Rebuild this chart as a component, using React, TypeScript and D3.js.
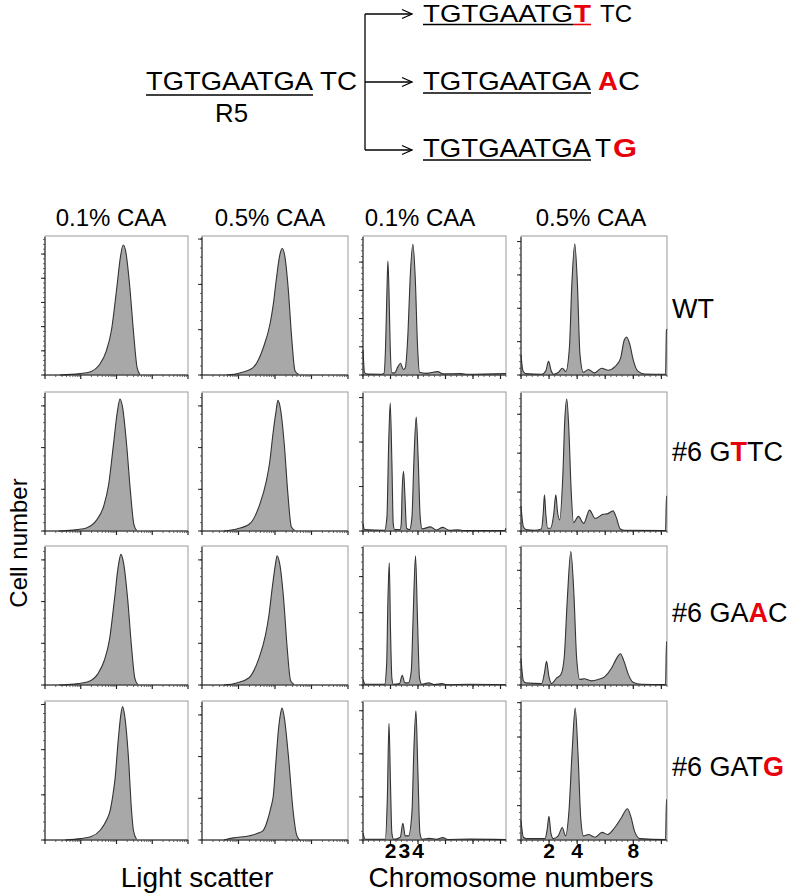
import React from "react";
import * as d3 from "d3";

const W = 791;
const H = 893;
const FONT = "'Liberation Sans', Arial, Helvetica, sans-serif";
const RED = "#e8000b";

// ---------- text content ----------
const columnTitles = ["0.1% CAA", "0.5% CAA", "0.1% CAA", "0.5% CAA"];
const rowLabelParts = [
  ["WT", "", ""],
  ["#6 G", "T", "TC"],
  ["#6 GA", "A", "C"],
  ["#6 GAT", "G", ""],
];
const ploidyLabelsLow = [2, 3, 4];
const ploidyLabelsHigh = [2, 4, 8];

// ---------- light scatter histograms: [intensity (log axis), % of max count] ----------
const wtScatter01 = [[2.6,0],[9.5,1],[18,2.2],[34,7.7],[52,17.4],[72,32],[100,61],[129,85],[154,93.5],[182,88.6],[236,63],[302,29.5],[377,5.3],[449,0.5]];
const wtScatter05 = [[4.8,0],[11,1.5],[25,5.3],[48,19.8],[73,36.7],[90,51],[110,70],[137,87],[158,91],[187,85],[229,63],[286,27],[353,3],[437,0.5]];
const gttcScatter01 = [[2.4,0],[8,1],[15,2.4],[28,8],[44,18],[60,33],[82,62],[106,86],[125,95],[148,89],[192,62],[246,28],[305,5],[365,0.5]];
const gttcScatter05 = [[4,0],[9,1.5],[20,5],[38,19],[58,36],[72,50],[88,70],[108,87],[120,94],[145,86],[180,62],[225,27],[280,3],[345,0.5]];
const gaacScatter01 = [[2.5,0],[8.5,1],[16,2.3],[30,8],[46,18],[64,33],[88,62],[113,86],[133,94],[157,88],[205,62],[262,28],[325,5],[390,0.5]];
const gaacScatter05 = [[4,0],[9,1.5],[19,5],[36,19],[55,36],[68,50],[84,70],[103,87],[114,93],[137,86],[172,62],[215,27],[268,3],[330,0.5]];
const gatgScatter01 = [[3.6,0],[10,1],[19,2.3],[35,7],[52,14],[66,21],[80,33],[91,44],[112,72],[132,90],[148,96],[168,90],[215,60],[262,22],[297,7],[363,0.5]];
const gatgScatter05 = [[4,0],[7.2,1.5],[20,3],[35,5],[48,7],[62,14],[78,24],[90,32],[105,55],[125,80],[142,91],[156,95],[180,88],[230,62],[316,20],[380,5],[437,1],[480,0]];

// ---------- chromosome number histograms: [chromosome number, % of max count] ----------
const wtPloidy01 = [[0,18],[0.12,1.5],[0.36,0.6],[1.33,0.5],[1.52,1],[1.64,20],[1.74,60],[1.81,82],[1.89,60],[1.98,20],[2.1,1.5],[2.3,1.5],[2.54,6],[2.73,8.5],[2.93,4],[3.07,5],[3.27,30],[3.43,70],[3.63,94],[3.8,70],[3.97,20],[4.11,2],[4.6,1.2],[5.44,2.4],[5.8,0.8],[7.14,1],[7.6,0.5],[10.4,1]];
const wtPloidy05 = [[0,14.6],[0.14,3],[0.31,1],[1.49,0.5],[1.77,3],[1.96,9.8],[2.15,3],[2.32,0.5],[2.67,2],[2.95,4.9],[3.19,2.5],[3.45,20],[3.62,65],[3.83,94.4],[4.02,65],[4.2,15],[4.44,2],[4.8,4],[5.22,1.5],[5.74,4.9],[6.22,3.4],[6.69,6],[7.09,12],[7.35,25],[7.52,27.3],[7.75,22],[7.99,11],[8.3,3],[8.82,0.7],[10.3,0.5],[10.36,32],[10.4,33]];
const gttcPloidy01 = [[0,5.3],[0.12,1],[1.57,0.5],[1.74,10],[1.86,60],[1.98,92],[2.1,50],[2.2,5],[2.3,1],[2.7,1],[2.78,5],[2.85,30],[2.95,43],[3.05,25],[3.17,2],[3.39,1],[3.56,10],[3.7,50],[3.87,82],[4.02,50],[4.16,10],[4.3,1.5],[4.91,3],[5.32,0.7],[5.8,2.6],[6.29,0.5],[6.9,0.8],[7.38,0.3],[10.3,0.3],[10.4,2]];
const gttcPloidy05 = [[0,18],[0.17,3],[0.36,1],[0.95,0.5],[1.45,1.5],[1.58,12],[1.67,26],[1.77,12],[1.9,2],[2.1,2],[2.33,12],[2.48,26],[2.6,14],[2.75,8],[2.98,40],[3.12,80],[3.26,95],[3.4,75],[3.57,30],[3.74,6],[4.09,10.5],[4.47,5.5],[4.88,15],[5.28,9],[5.83,12],[6.19,12.5],[6.55,14.5],[6.78,10],[7.07,1.5],[7.38,0.5],[10.3,0.3],[10.36,25],[10.4,25]];
const gaacPloidy01 = [[0,4],[0.17,0.5],[1.57,0.5],[1.72,15],[1.81,60],[1.91,88],[2.0,40],[2.1,5],[2.2,0.5],[2.66,1],[2.85,7],[3.05,1.5],[3.3,1.5],[3.51,10],[3.65,50],[3.82,93],[3.97,45],[4.11,5],[4.28,0.5],[4.77,1.5],[5.2,0.3],[5.73,1],[6.17,0.2],[7.62,0.5],[10.4,0.2]];
const gaacPloidy05 = [[0,19],[0.17,3],[0.33,1.5],[1.47,1],[1.66,8],[1.82,17],[1.99,6],[2.18,1],[2.53,5],[2.84,7.5],[3.08,20],[3.29,60],[3.55,96],[3.77,65],[3.96,20],[4.19,4],[4.5,4.5],[5.02,3],[5.5,4],[5.97,6],[6.44,12],[6.8,19],[7.08,22.5],[7.34,17],[7.63,8],[7.98,2],[8.58,0.5],[10.3,0.3],[10.36,31],[10.4,31]];
const gatgPloidy01 = [[0,5],[0.17,0.5],[1.62,0.5],[1.77,30],[1.89,84],[2.0,40],[2.1,5],[2.23,0.5],[2.71,2],[2.9,12],[3.07,3],[3.31,3],[3.56,20],[3.7,65],[3.85,93],[3.99,50],[4.14,5],[4.3,0.5],[4.84,1.2],[5.32,0.5],[5.8,1.7],[6.17,0.4],[7.74,0.6],[10.4,0.3]];
const gatgPloidy05 = [[0,14],[0.17,2],[0.4,1],[1.71,1],[1.87,8],[1.99,17],[2.13,5],[2.3,1],[2.65,3],[2.94,9],[3.17,3],[3.41,20],[3.65,65],[3.86,95],[4.07,60],[4.26,15],[4.45,3],[4.79,4],[5.26,2],[5.78,5.5],[6.16,4],[6.68,9],[7.15,16],[7.58,22.5],[7.82,17],[8.1,6],[8.46,1],[10.3,0.3],[10.36,29],[10.4,29]];

// count-axis major tick step, % of max, per row and column
const countTickSteps = [
  [17.4, 32.6, 20.3, 24],
  [30, 30, 32, 28],
  [30, 30, 26, 27.5],
  [32.5, 30, 31, 24.7],
];

const panelData = [
  [wtScatter01, wtScatter05, wtPloidy01, wtPloidy05],
  [gttcScatter01, gttcScatter05, gttcPloidy01, gttcPloidy05],
  [gaacScatter01, gaacScatter05, gaacPloidy01, gaacPloidy05],
  [gatgScatter01, gatgScatter05, gatgPloidy01, gatgPloidy05],
];

// ---------- layout ----------
const colX = [45, 202, 363, 521];
const colW = [143, 146, 143, 146];
const rowY = [236, 392, 546, 701];
const panelH = 139;
const titleX = [111, 270, 420, 591];
const rowLabelY = [318, 461, 622, 776];

function Panel({ x0, y0, w, h, kind, data, step }) {
  const xs =
    kind === "scatter"
      ? d3.scaleLog().domain([1, 10000]).range([x0, x0 + w])
      : d3.scaleLinear().domain([0, 10.4]).range([x0, x0 + w]);
  const ys = d3.scaleLinear().domain([0, 100]).range([y0 + h, y0]);
  const area = d3
    .area()
    .x((d) => xs(d[0]))
    .y0(y0 + h)
    .y1((d) => ys(d[1]))
    .curve(d3.curveMonotoneX);
  const line = d3
    .line()
    .x((d) => xs(d[0]))
    .y((d) => ys(d[1]))
    .curve(d3.curveMonotoneX);

  const yMajor = d3.range(0, 100.001, step);
  const yMinor = d3.range(0, 100.001, step / 5);
  let xMajor, xMinor;
  if (kind === "scatter") {
    xMajor = [1, 10, 100, 1000, 10000];
    xMinor = [];
    [1, 10, 100, 1000].forEach((dd) => {
      for (let m = 2; m <= 9; m++) xMinor.push(dd * m);
    });
  } else {
    xMajor = d3.range(0, 10.41, 2);
    xMinor = d3.range(0, 10.41, 0.4);
  }
  const bottom = y0 + h;
  return (
    <g>
      <rect x={x0} y={y0} width={w} height={h} fill="none" stroke="#9a9a9a" strokeWidth={1} />
      <path d={area(data)} fill="#a8a8a8" stroke="none" />
      <path d={line(data)} fill="none" stroke="#333" strokeWidth={1.1} strokeLinejoin="round" />
      <line x1={x0} x2={x0} y1={y0 + 1} y2={bottom} stroke="#222" strokeWidth={1} />
      <line x1={x0} x2={x0 + w} y1={bottom} y2={bottom} stroke="#222" strokeWidth={1} />
      {yMinor.map((v, i) => (
        <line key={"ym" + i} x1={x0 - 2} x2={x0} y1={ys(v)} y2={ys(v)} stroke="#444" strokeWidth={0.8} />
      ))}
      {yMajor.map((v, i) => (
        <line key={"yM" + i} x1={x0 - 4} x2={x0} y1={ys(v)} y2={ys(v)} stroke="#222" strokeWidth={1} />
      ))}
      {xMinor.map((v, i) => (
        <line key={"xm" + i} x1={xs(v)} x2={xs(v)} y1={bottom} y2={bottom + 2} stroke="#444" strokeWidth={0.8} />
      ))}
      {xMajor.map((v, i) => (
        <line key={"xM" + i} x1={xs(v)} x2={xs(v)} y1={bottom} y2={bottom + 4} stroke="#222" strokeWidth={1.2} />
      ))}
    </g>
  );
}

function T({ x, y, s, len, size = 26, red = false, bold = false }) {
  return (
    <text
      x={x}
      y={y}
      fontSize={size}
      fontWeight={bold ? "bold" : "normal"}
      fill={red ? RED : "#000"}
      textLength={len}
      lengthAdjust="spacingAndGlyphs"
    >
      {s}
    </text>
  );
}

function Arrow({ y }) {
  return (
    <g stroke="#000" strokeWidth={1.3} fill="none">
      <line x1={365} x2={412} y1={y} y2={y} />
      <polyline points={`402,${y - 4.5} 412,${y} 402,${y + 4.5}`} />
    </g>
  );
}

export default function App() {
  const ploidyScale = d3.scaleLinear().domain([0, 10.4]);
  return (
    <svg
      width={W}
      height={H}
      viewBox={`0 0 ${W} ${H}`}
      style={{ position: "absolute", left: 0, top: 0, background: "#fff" }}
      fontFamily={FONT}
    >
      <rect x={0} y={0} width={W} height={H} fill="#fff" />
      {/* sequence diagram */}
      <g>
        <T x={146} y={90} s="TGTGAATGA" len={167} />
        <T x={320} y={90} s="TC" len={37} />
        <line x1={146} x2={313} y1={95} y2={95} stroke="#000" strokeWidth={1.6} />
        <T x={215} y={122} s="R5" len={33} />
        <line x1={365} x2={365} y1={14} y2={150} stroke="#000" strokeWidth={1.3} />
        <Arrow y={14} />
        <Arrow y={82} />
        <Arrow y={150} />
        {/* top branch */}
        <T x={423} y={22} s="TGTGAATG" len={150} size={24} />
        <T x={574} y={22} s="T" len={17} size={24} red bold />
        <T x={600} y={22} s="TC" len={32} size={24} />
        <line x1={423} x2={573} y1={24.5} y2={24.5} stroke="#000" strokeWidth={1.6} />
        <line x1={573} x2={591} y1={24.5} y2={24.5} stroke={RED} strokeWidth={1.6} />
        {/* middle branch */}
        <T x={423} y={90} s="TGTGAATGA" len={168} />
        <T x={598} y={90} s="A" len={20} red bold />
        <T x={618} y={90} s="C" len={22} />
        <line x1={423} x2={591} y1={93} y2={93} stroke="#000" strokeWidth={1.6} />
        {/* bottom branch */}
        <T x={423} y={157} s="TGTGAATGA" len={168} />
        <T x={595} y={157} s="T" len={16} />
        <T x={613} y={157} s="G" len={24} red bold />
        <line x1={423} x2={591} y1={160} y2={160} stroke="#000" strokeWidth={1.6} />
      </g>

      {/* column titles */}
      {columnTitles.map((t, i) => (
        <text key={"ct" + i} x={titleX[i]} y={226} fontSize={24} textAnchor="middle">
          {t}
        </text>
      ))}

      {/* panels */}
      {panelData.map((row, r) =>
        row.map((data, c) => (
          <Panel
            key={`p${r}-${c}`}
            x0={colX[c]}
            y0={rowY[r]}
            w={colW[c]}
            h={panelH}
            kind={c < 2 ? "scatter" : "ploidy"}
            data={data}
            step={countTickSteps[r][c]}
          />
        ))
      )}

      {/* row labels */}
      {rowLabelParts.map((p, i) => (
        <text key={"rl" + i} x={672} y={rowLabelY[i]} fontSize={27}>
          {p[0]}
          {p[1] ? (
            <tspan fill={RED} fontWeight="bold">
              {p[1]}
            </tspan>
          ) : null}
          {p[2] ? <tspan>{p[2]}</tspan> : null}
        </text>
      ))}

      {/* chromosome tick labels */}
      {ploidyLabelsLow.map((v, i) => (
        <text
          key={"pl" + i}
          x={ploidyScale.range([colX[2], colX[2] + colW[2]])(v)}
          y={858}
          fontSize={21}
          fontWeight="bold"
          textAnchor="middle"
        >
          {v}
        </text>
      ))}
      {ploidyLabelsHigh.map((v, i) => (
        <text
          key={"ph" + i}
          x={ploidyScale.range([colX[3], colX[3] + colW[3]])(v)}
          y={858}
          fontSize={21}
          fontWeight="bold"
          textAnchor="middle"
        >
          {v}
        </text>
      ))}

      {/* axis titles */}
      <text x={197} y={887} fontSize={28} textAnchor="middle">
        Light scatter
      </text>
      <text x={511} y={887} fontSize={28} textAnchor="middle">
        Chromosome numbers
      </text>
      <text transform="translate(27,543) rotate(-90)" fontSize={24} textAnchor="middle">
        Cell number
      </text>
    </svg>
  );
}
